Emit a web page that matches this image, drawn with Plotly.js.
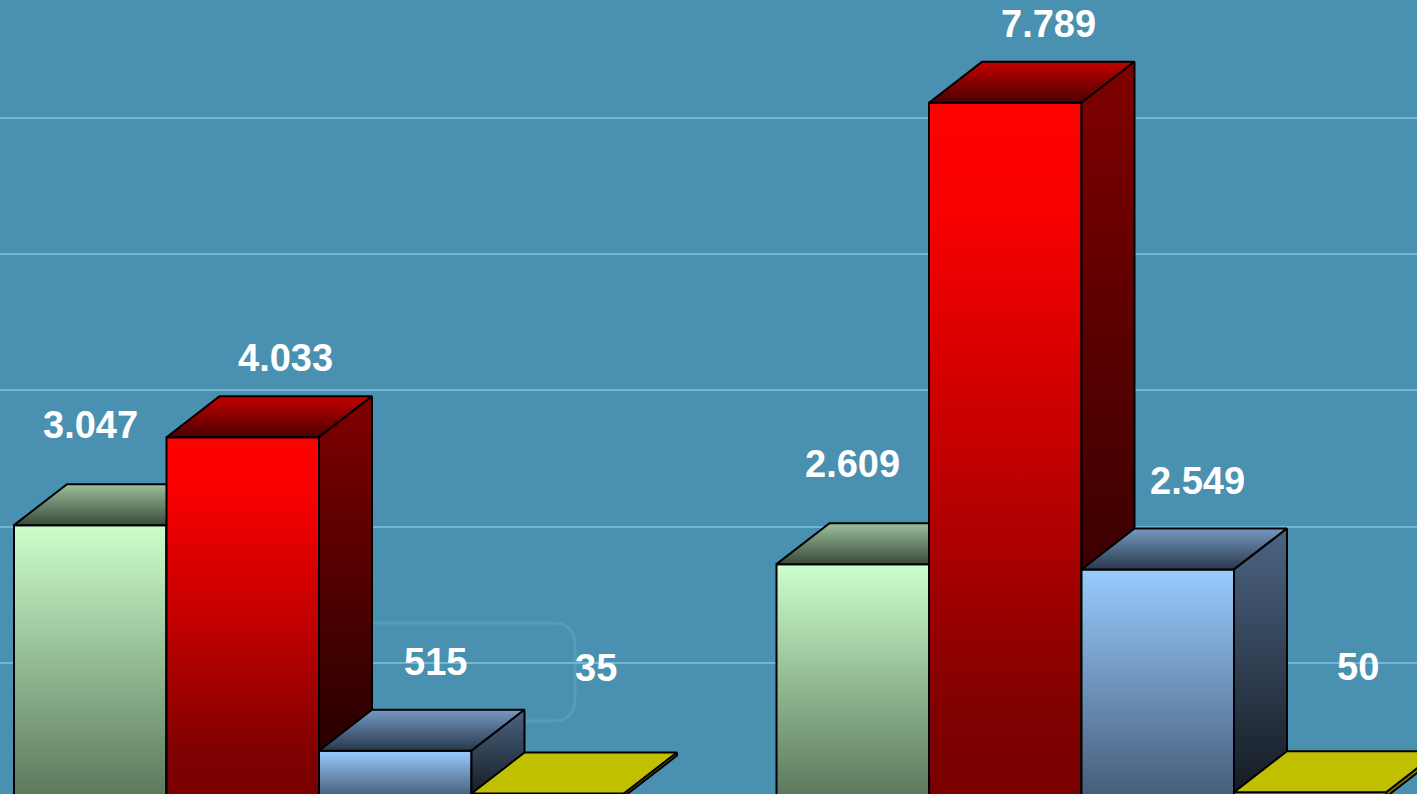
<!DOCTYPE html>
<html>
<head>
<meta charset="utf-8">
<script src="https://cdn.plot.ly/plotly-3.0.1.min.js"></script>
<style>
  html, body { margin: 0; padding: 0; background: #4a90b0; overflow: hidden; }
  #chart { width: 1417px; height: 794px; }
</style>
</head>
<body>
<div id="chart"></div>
<script>
// ---- data ----
const groupNames = ['Gruppe 1', 'Gruppe 2'];
const seriesNames = ['Reihe 1', 'Reihe 2', 'Reihe 3', 'Reihe 4'];
const group1Values = [3047, 4033, 515, 35];
const group2Values = [2609, 7789, 2549, 50];

// ---- styles ----
const faceColors = [
  { front: [[0, '#5c785c'], [1, '#ccffcc']],
    top:   [[0, '#3a4a3a'], [1, '#9cc09c']],
    side:  [[0, '#1e2a1e'], [1, '#4a634a']] },
  { front: [[0, '#780000'], [0.12, '#800000'], [0.5, '#c40000'], [0.85, '#f80000'], [1, '#ff0000']],
    top:   [[0, '#4a0000'], [1, '#c40000']],
    side:  [[0, '#1c0000'], [1, '#800000']] },
  { front: [[0, '#465c7a'], [1, '#99ccff']],
    top:   [[0, '#28384c'], [1, '#7699c2']],
    side:  [[0, '#141a22'], [1, '#4c6482']] },
  { front: [[0, '#c0c000'], [1, '#c0c000']],
    top:   [[0, '#c0c000'], [1, '#c0c000']],
    side:  [[0, '#7a7a00'], [1, '#8a8a00']] }
];
const labelShift = [ {x: 0, y: 59}, {x: 43, y: 38}, {x: 40, y: 48}, {x: 48, y: 84} ];

const BAR_W = 1;        // bar width in x units
const GROUP_STEP = 5;   // 4 bars + gap
const DEPTH_X = 0.3475; // oblique depth, x units
const DEPTH_Y = 460;    // oblique depth, y units

const allValues = [group1Values, group2Values];

function fmt(v) {
  return String(v).replace(/\B(?=(\d{3})+(?!\d))/g, '.');
}

const traces = [];
const annotations = [];

function face(xs, ys, cs) {
  traces.push({
    type: 'scatter', mode: 'lines', x: xs, y: ys,
    fill: 'toself',
    fillgradient: { type: 'vertical', colorscale: cs },
    line: { color: '#000000', width: 2 },
    hoverinfo: 'skip', showlegend: false
  });
}

allValues.forEach((vals, g) => {
  vals.forEach((v, s) => {
    const L = g * GROUP_STEP + s;
    const R = L + BAR_W;
    const c = faceColors[s];
    // front
    face([L, R, R, L, L], [0, 0, v, v, 0], c.front);
    // top
    face([L, R, R + DEPTH_X, L + DEPTH_X, L], [v, v, v + DEPTH_Y, v + DEPTH_Y, v], c.top);
    // side
    face([R, R + DEPTH_X, R + DEPTH_X, R, R], [0, DEPTH_Y, v + DEPTH_Y, v, 0], c.side);
    // label
    annotations.push({
      x: L + BAR_W / 2, y: v + DEPTH_Y, xref: 'x', yref: 'y',
      text: fmt(v), showarrow: false,
      xanchor: 'center', yanchor: 'middle',
      xshift: labelShift[s].x, yshift: labelShift[s].y,
      font: { family: 'Arial, "Liberation Sans", sans-serif', size: 38, color: '#ffffff', weight: 'bold' }
    });
  });
});

const W = 1417, H = 794;
function px(x) { return x / W; }
function py(y) { return 1 - y / H; }

const layout = {
  width: W, height: H,
  margin: { l: 0, r: 0, t: 0, b: 0, pad: 0 },
  paper_bgcolor: '#4a90b0',
  plot_bgcolor: '#4a90b0',
  showlegend: false,
  xaxis: { range: [-0.0918, 9.2], showgrid: false, zeroline: false, showticklabels: false, ticks: '', showline: false, fixedrange: true },
  yaxis: { range: [29, 8942], showgrid: true, gridcolor: 'rgba(125,188,218,0.85)', gridwidth: 2,
           tick0: 1500, dtick: 1530, zeroline: false, showticklabels: false, ticks: '', showline: false, fixedrange: true },
  shapes: [{
    type: 'path', xref: 'paper', yref: 'paper', layer: 'below',
    path: `M ${px(20)},${py(623)} L ${px(553)},${py(623)} Q ${px(575)},${py(623)} ${px(575)},${py(646)} L ${px(575)},${py(698)} Q ${px(575)},${py(721)} ${px(553)},${py(721)} L ${px(20)},${py(721)}`,
    line: { color: 'rgba(120,185,215,0.3)', width: 3 }
  }],
  annotations: annotations
};

Plotly.newPlot('chart', traces, layout, { displayModeBar: false, staticPlot: true });
</script>
</body>
</html>
